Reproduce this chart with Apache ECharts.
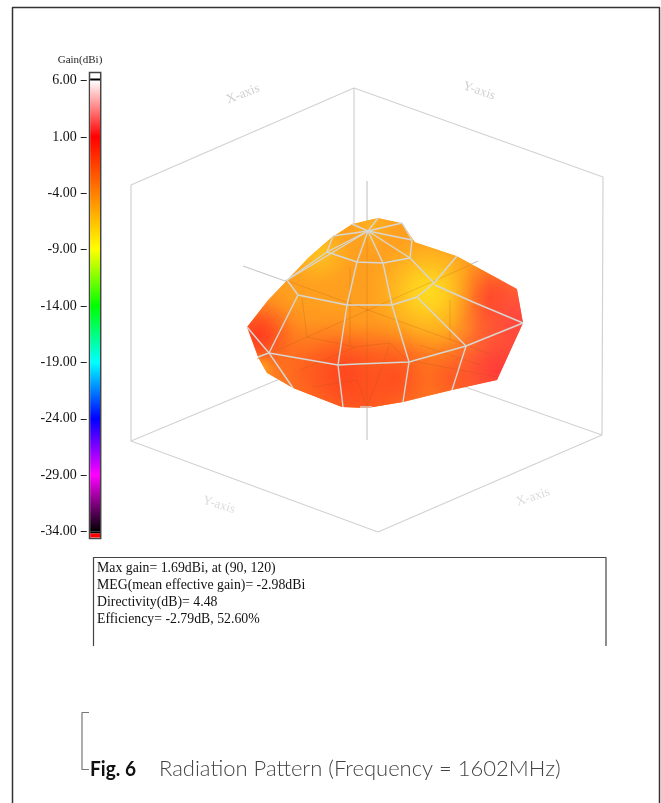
<!DOCTYPE html>
<html><head><meta charset="utf-8">
<style>html,body{margin:0;padding:0;background:#fff}#c{width:661px;height:803px}</style>
<script src="https://cdn.jsdelivr.net/npm/echarts@6/dist/echarts.min.js"></script>
</head><body><div id="c"></div>
<script>
// ---- colour scale ----
const gainTicks = ['-34.00','-29.00','-24.00','-19.00','-14.00','-9.00','-4.00','1.00','6.00'];
const stopGains  = [-34,-29,-24,-19,-14,-9,-4,1,6];
const stopColors = ['#000000','#ff00ff','#0000ff','#00ffff','#00ff00','#ffff00','#ff8000','#ff0000','#ffffff'];
// ---- scene (picture units) ----
const boxWalls = [
  [[131,185],[354,88],[603,177],[602,435],[378,532],[131,441],[131,185]],
  [[354,88],[354,348]],
  [[131,441],[354,348],[602,435]]
];
const centreAxes = [[[367,181],[367,440]],[[243,266],[490,354]],[[478,261],[257,359]]];
const silhouette = [[247,327],[268,300],[287,280],[308,258],[332,237],[352,224],[378,218],[402,223],[415,242],[457,256],[517,289],[523,323],[497,380],[452,390],[403,402],[367,408],[342,407],[293,388],[267,373],[258,357]];
const baseGain = -4.7;
// cx, cy, radius, gain
const gainSpots = [
  [305,372,70,-2.2],[360,395,90,-1.6],[345,375,56,-0.8],[395,378,62,-1.2],[450,380,56,-2.0],
  [490,298,52,-1.2],[528,322,80,1.8],[500,372,70,1.6],
  [258,335,50,-0.3],[262,368,16,-4.6],[428,292,62,-7.4],[318,252,40,-6.2],[372,226,30,-5.4]
];
const backMesh = [
  [[367,407],[357,380],[313,387]],[[367,407],[380,373],[390,343],[407,360]],
  [[355,347],[307,337],[302,298]],[[355,347],[390,343]],[[350,267],[350,347]],
  [[450,300],[450,340]],[[407,360],[497,377]],[[300,370],[355,347]],[[420,345],[480,365]],
  [[367,231],[367,408]],[[285,280],[490,354]],[[470,265],[262,357]]
];
const frontMesh = [
  [[333,236],[327,252],[357,262],[383,263],[410,258],[412,240],[402,223]],
  [[368,231],[357,262]],[[368,231],[383,263]],[[368,231],[410,258]],[[368,231],[412,240]],
  [[368,231],[402,223]],[[368,231],[378,218]],[[368,231],[352,224]],[[368,231],[333,236]],
  [[368,231],[327,252]],[[368,231],[287,280]],[[287,280],[327,252]],
  [[287,280],[298,295],[347,305],[392,305],[417,297],[434,283],[457,256]],
  [[357,262],[347,305],[338,365],[343,407]],[[383,263],[392,305],[409,362],[403,402]],
  [[410,258],[434,283]],[[435,285],[473,302],[523,323]],[[417,297],[466,346],[452,390]],
  [[247,327],[269,353],[338,365],[358,364],[383,363],[409,362],[466,346],[523,323]],
  [[298,295],[269,353],[293,388]],[[258,357],[269,353]],[[360,407],[372,407]]
];
const paleLabels = [
  ['X-axis',243,94,0.38,'#cfcfcf'],['Y-axis',479,91,-0.33,'#cfcfcf'],
  ['Y-axis',219,505,-0.3,'#dcdcdc'],['X-axis',533,497,0.33,'#dcdcdc']
];
const infoBox = [[[93.5,646],[93.5,557.5],[606,557.5],[606,646]]];
const infoLines = ['Max gain= 1.69dBi, at (90, 120)','MEG(mean effective gain)= -2.98dBi','Directivity(dB)= 4.48','Efficiency= -2.79dB, 52.60%'];
const pageFrame = [[[12.5,803],[12.5,7.5],[659.5,7.5],[659.5,803]]];
const bracket = [[[89,712.5],[82,712.5],[82,769.5],[89,769.5]]];
const figTag = 'Fig. 6';
const figCaption = 'Radiation Pattern (Frequency = 1602MHz)';

function hex(c){return [1,3,5].map(i=>parseInt(c.substr(i,2),16));}
function gainColor(g,a){
  let i=0; while(i<stopGains.length-2 && g>stopGains[i+1]) i++;
  const t=Math.max(0,Math.min(1,(g-stopGains[i])/(stopGains[i+1]-stopGains[i])));
  const p=hex(stopColors[i]),q=hex(stopColors[i+1]);
  return 'rgba('+p.map((v,k)=>Math.round(v+(q[k]-v)*t)).join(',')+','+a+')';
}
function lines(list,stroke,width,z){
  return {type:'custom',xAxisIndex:0,yAxisIndex:0,silent:true,z:z,clip:false,
    data:list.map((_,i)=>[i]),
    renderItem:(p,api)=>({type:'polyline',
      shape:{points:list[p.dataIndex].map(v=>api.coord(v))},
      style:{stroke:stroke,lineWidth:width,fill:null,lineJoin:'round'}})};
}
function texts(list,z){ // [text,x,y,rotation,colour,font,align,scaleX]
  return {type:'custom',xAxisIndex:0,yAxisIndex:0,silent:true,z:z,clip:false,
    data:list.map((_,i)=>[i]),
    renderItem:(p,api)=>{const d=list[p.dataIndex],c=api.coord([d[1],d[2]]);
      return {type:'text',x:c[0],y:c[1],rotation:d[3],scaleX:d[7]||1,
        style:{text:d[0],fill:d[4],font:d[5],align:d[6]||'center',verticalAlign:'middle'}};}};
}
const serif='"Liberation Serif"';
const surface={type:'custom',xAxisIndex:0,yAxisIndex:0,silent:true,z:4,clip:false,data:[[0]],
  renderItem:(p,api)=>{
    const pts=silhouette.map(v=>api.coord(v));
    const kids=[{type:'polygon',shape:{points:pts},style:{fill:gainColor(baseGain,1)}}];
    gainSpots.forEach(s=>{
      const c=api.coord([s[0],s[1]]);
      kids.push({type:'circle',shape:{cx:c[0],cy:c[1],r:s[2]},
        style:{fill:new echarts.graphic.RadialGradient(0.5,0.5,0.5,[
          {offset:0,color:gainColor(s[3],1)},{offset:0.25,color:gainColor(s[3],0.8)},
          {offset:0.5,color:gainColor(s[3],0.45)},{offset:0.75,color:gainColor(s[3],0.14)},
          {offset:1,color:gainColor(s[3],0)}])}});
    });
    kids.push({type:'polygon',shape:{points:pts},style:{fill:'rgba(255,255,255,0.12)'}});
    return {type:'group',clipPath:{type:'polygon',shape:{points:pts}},children:kids};
  }};
const colourBar={type:'custom',xAxisIndex:1,yAxisIndex:1,silent:true,z:3,clip:false,data:[[0]],
  renderItem:(p,api)=>{
    const top=api.coord([0.2,gainTicks.length-1]),bot=api.coord([1,0]);
    const x=top[0],w=bot[0]-top[0],y=top[1],h=bot[1]-top[1];
    const stops=stopGains.map((g,i)=>({offset:1-i/(stopGains.length-1),color:stopColors[i]})).reverse();
    return {type:'group',children:[
      {type:'rect',shape:{x:x,y:y-8,width:w,height:h+15},style:{fill:'#fff',stroke:'#444',lineWidth:1.5}},
      {type:'rect',shape:{x:x+.7,y:y,width:w-1.4,height:h},
        style:{fill:new echarts.graphic.LinearGradient(0,0,0,1,stops)}},
      {type:'rect',shape:{x:x+.7,y:y-2,width:w-1.4,height:2},style:{fill:'#000'}},
      {type:'rect',shape:{x:x+.7,y:y+h,width:w-1.4,height:2},style:{fill:'#000'}},
      {type:'rect',shape:{x:x+.7,y:y+h+2,width:w-1.4,height:4},style:{fill:'#f00'}}
    ]};
  }};
const chart=echarts.init(document.getElementById('c'),null,{renderer:'canvas'});
chart.setOption({
  animation:false,backgroundColor:'#fff',
  grid:[{left:0,top:0,width:661,height:803},{left:86.7,top:80.5,width:14,height:451}],
  xAxis:[{type:'value',min:0,max:661,show:false},{type:'value',min:0,max:1,show:false,gridIndex:1}],
  yAxis:[{type:'value',min:0,max:803,inverse:true,show:false},
    {type:'category',gridIndex:1,data:gainTicks,boundaryGap:false,
     axisLine:{show:false},splitLine:{show:false},
     axisTick:{show:true,alignWithLabel:true,length:6,lineStyle:{color:'#222',width:1}},
     axisLabel:{show:true,interval:0,margin:10,color:'#111',fontFamily:serif,fontSize:14}}],
  series:[
    lines(pageFrame,'#333',1.5,1),
    lines(boxWalls,'#d2d2d2',1.2,2),
    lines(centreAxes,'#c8c8c8',1.2,2),
    colourBar,
    surface,
    lines(backMesh,'rgba(170,80,20,0.22)',1,5),
    lines(frontMesh,'#d6d6d2',1.4,6),
    lines(infoBox,'#444',1.2,2),
    lines(bracket,'#777',1.2,2),
    texts(paleLabels.map(l=>[l[0],l[1],l[2],l[3],l[4],'13px '+serif]),7),
    texts([['Gain(dBi)',80,60,0,'#222','11px '+serif]],7),
    texts(infoLines.map((t,i)=>[t,97,568+i*17,0,'#111','13.8px '+serif,'left']),7),
    texts([[figTag,90,769,0,'#111','bold 21px Lato','left',0.91],[figCaption,159,769,0,'#444','300 22px Lato','left']],7)
  ]
});
</script></body></html>
